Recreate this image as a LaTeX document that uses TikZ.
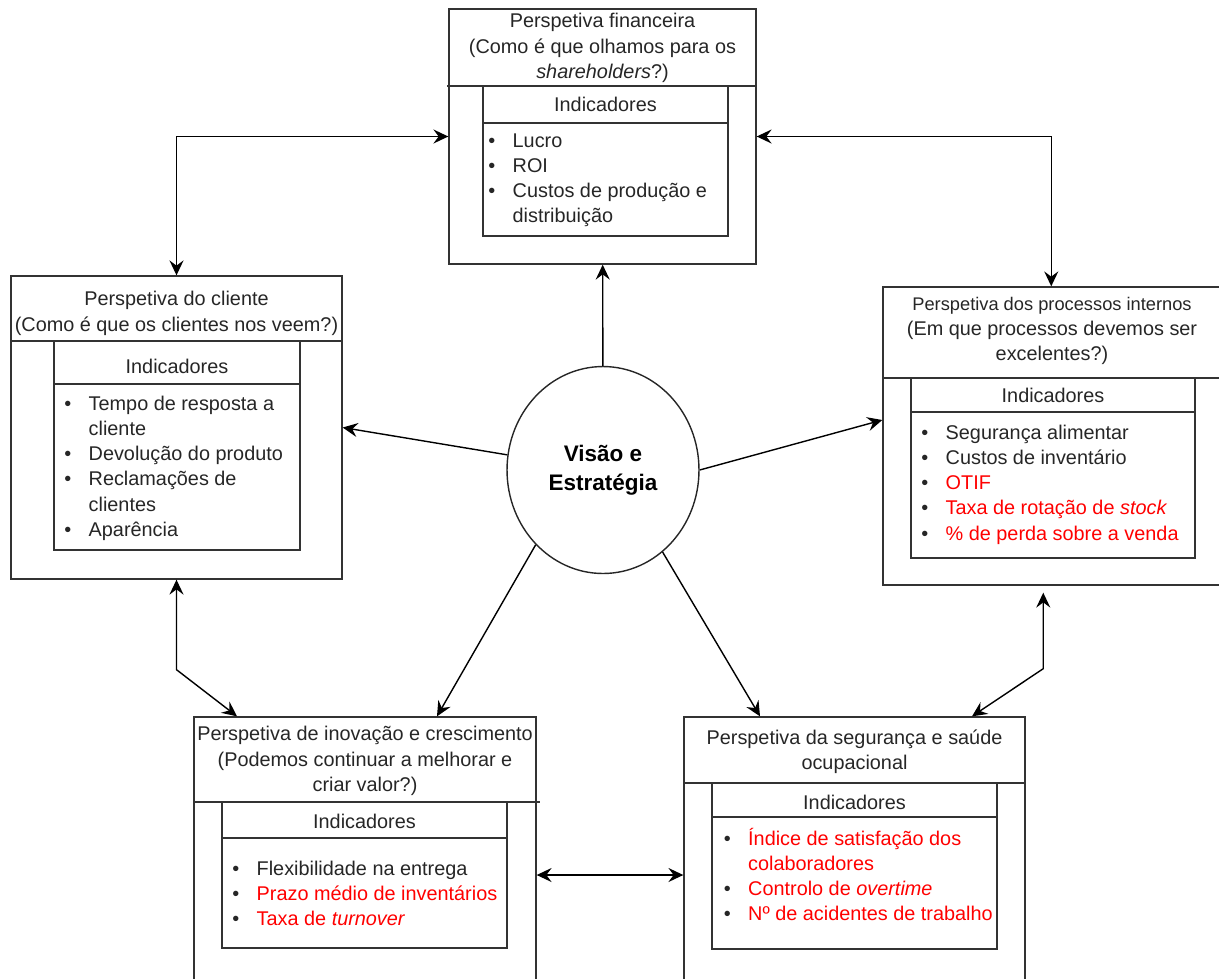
\documentclass[tikz,border=0pt]{standalone}
\usepackage{fontspec}
\setmainfont{Liberation Sans}
\usetikzlibrary{arrows.meta,shapes.geometric}
\definecolor{kpired}{RGB}{255,0,0}
\newenvironment{kpilist}{\begin{tabular}[t]{@{}l@{\hspace{9.9pt}}l@{}}}{\end{tabular}}
\tikzset{
  panel/.style={draw=black!80, line width=0.8pt, inner sep=0pt},
  lbl/.style={text=black!85, font=\fontsize{11.3}{14.4}\selectfont, inner sep=0pt, align=center},
  items/.style={text=black!85, font=\fontsize{11.3}{14.4}\selectfont, inner sep=0pt, anchor=base west},
  tip/.tip={Stealth[length=8.5pt,width=8pt,inset=3pt]},
  link/.style={draw=black, line width=0.8pt, -tip},
  twoway/.style={draw=black, line width=0.8pt, tip-tip},
}
\begin{document}
\begin{tikzpicture}[x=0.02cm, y=-0.02cm]
  \useasboundingbox (0,0) rectangle (1219,978);
  % perspetiva financeira
  \node[panel, minimum width=6.14cm, minimum height=5.10cm] (fin) at (602.5,136.5) {};
  \draw[panel] (447,86) -- (756,86);
  \node[panel, minimum width=4.90cm, minimum height=3.00cm] (finkpi) at (605.5,161) {};
  \draw[panel] (483,123) -- (728,123);
  \node[lbl] (finhead) at (602.5,48) {Perspetiva financeira\\(Como é que olhamos para os\\\textit{shareholders}?)};
  \node[lbl] (finind) at (605.5,104) {Indicadores};
  \node[items] (finlist) at (488,147) {\begin{kpilist}
    \textbullet & Lucro\\
    \textbullet & ROI\\
    \textbullet & Custos de produção e\\
                & distribuição
  \end{kpilist}};
  % perspetiva do cliente
  \node[panel, minimum width=6.62cm, minimum height=6.06cm] (cli) at (176.5,427.5) {};
  \draw[panel] (11,341) -- (343,341);
  \node[panel, minimum width=4.92cm, minimum height=4.18cm] (clikpi) at (177,445.5) {};
  \draw[panel] (54,384) -- (300,384);
  \node[lbl] (clihead) at (176.5,313.5) {Perspetiva do cliente\\(Como é que os clientes nos veem?)};
  \node[lbl] (cliind) at (177,366) {Indicadores};
  \node[items] (clilist) at (64,410) {\begin{kpilist}
    \textbullet & Tempo de resposta a\\
                & cliente\\
    \textbullet & Devolução do produto\\
    \textbullet & Reclamações de\\
                & clientes\\
    \textbullet & Aparência
  \end{kpilist}};
  % perspetiva dos processos internos
  \node[panel, minimum width=6.73cm, minimum height=5.96cm] (proc) at (1051.25,436) {};
  \draw[panel] (883,378) -- (1219.5,378);
  \node[panel, minimum width=5.68cm, minimum height=3.60cm] (prockpi) at (1053,468) {};
  \draw[panel] (911,412) -- (1195,412);
  \node[lbl] (prochead) at (1052,331) {{\fontsize{10.4}{14.4}\selectfont Perspetiva dos processos internos}\\(Em que processos devemos ser\\excelentes?)};
  \node[lbl] (procind) at (1053,395) {Indicadores};
  \node[items] (proclist) at (921,439) {\begin{kpilist}
    \textbullet & Segurança alimentar\\
    \textbullet & Custos de inventário\\
    \textbullet & \textcolor{kpired}{OTIF}\\
    \textbullet & \textcolor{kpired}{Taxa de rotação de \textit{stock}}\\
    \textbullet & \textcolor{kpired}{\% de perda sobre a venda}
  \end{kpilist}};
  % perspetiva de inovação e crescimento
  \node[panel, minimum width=6.84cm, minimum height=5.46cm] (inov) at (365,853.5) {};
  \draw[panel] (194,802) -- (540,802);
  \node[panel, minimum width=5.70cm, minimum height=2.92cm] (inovkpi) at (364.5,875) {};
  \draw[panel] (222,838) -- (507,838);
  \node[lbl] (inovhead) at (365,761) {Perspetiva de inovação e crescimento\\(Podemos continuar a melhorar e\\criar valor?)};
  \node[lbl] (inovind) at (364.5,821) {Indicadores};
  \node[items] (inovlist) at (232,875) {\begin{kpilist}
    \textbullet & Flexibilidade na entrega\\
    \textbullet & \textcolor{kpired}{Prazo médio de inventários}\\
    \textbullet & \textcolor{kpired}{Taxa de \textit{turnover}}
  \end{kpilist}};
  % perspetiva da segurança e saúde ocupacional
  \node[panel, minimum width=6.82cm, minimum height=5.46cm] (seg) at (854.5,853.5) {};
  \draw[panel] (684,783) -- (1025,783);
  \node[panel, minimum width=5.70cm, minimum height=3.32cm] (segkpi) at (854.5,866) {};
  \draw[panel] (712,817) -- (997,817);
  \node[lbl] (seghead) at (854.5,752) {Perspetiva da segurança e saúde\\ocupacional};
  \node[lbl] (segind) at (854.5,802) {Indicadores};
  \node[items] (seglist) at (723.5,845) {\begin{kpilist}
    \textbullet & \textcolor{kpired}{Índice de satisfação dos}\\
                & \textcolor{kpired}{colaboradores}\\
    \textbullet & \textcolor{kpired}{Controlo de \textit{overtime}}\\
    \textbullet & \textcolor{kpired}{Nº de acidentes de trabalho}
  \end{kpilist}};
  % visão e estratégia
  \node[ellipse, draw=black!85, line width=0.8pt, minimum width=3.84cm, minimum height=4.14cm, inner sep=0pt,
    align=center, font=\fontsize{12.8}{16.5}\selectfont\bfseries] (vis) at (603,470) {Visão e\\Estratégia};
  \draw[link] (vis) -- (fin);
  \draw[link] (vis.171) -- (cli.east);
  \draw[link] (vis.east) -- ([yshift=0.32cm]proc.west);
  \draw[link] (vis.228) -- ([xshift=1.44cm]inov.north);
  \draw[link] (vis.306) -- ([xshift=-1.89cm]seg.north);
  \draw[twoway] (fin.west) -| (cli.north);
  \draw[twoway] (fin.east) -| (proc.north);
  \draw[twoway] (cli.south) -- ++(0,90) -- ([xshift=-2.56cm]inov.north);
  \draw[twoway] ([xshift=-0.16cm,yshift=-0.14cm]proc.south) -- ++(0,76) -- ([xshift=2.35cm]seg.north);
  \draw[twoway] ([yshift=-0.43cm]inov.east) -- ([yshift=-0.43cm]seg.west);
\end{tikzpicture}
\end{document}
